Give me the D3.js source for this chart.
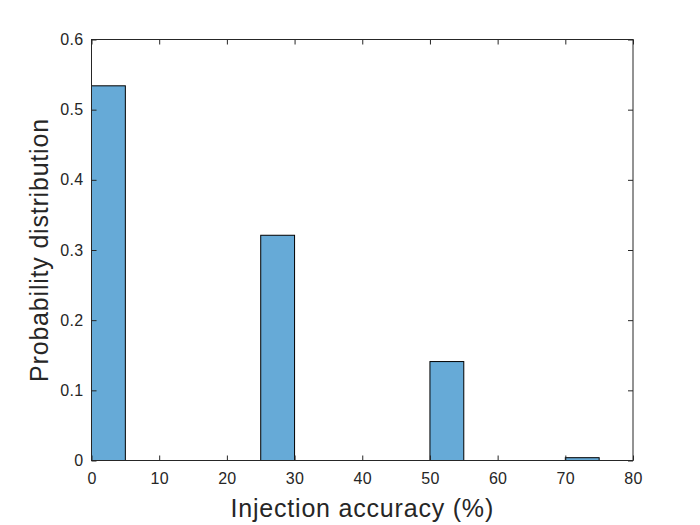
<!DOCTYPE html>
<html>
<head>
<meta charset="utf-8">
<script src="https://cdn.jsdelivr.net/npm/d3@7"></script>
<style>
  body { margin: 0; background: #fff; }
  text { font-family: "Liberation Sans", Arial, sans-serif; fill: #262626; }
</style>
</head>
<body>
<svg id="chart" width="700" height="525"></svg>
<script>
const MARGIN = { top: 39.5, right: 67, bottom: 64.5, left: 91.5 };

// histogram bins (Injection accuracy %) and probability per bin
const binStarts = [0, 25, 50, 70];
const binWidth = 5;
const probabilities = [0.534, 0.321, 0.141, 0.004];
const xTicks = [0, 10, 20, 30, 40, 50, 60, 70, 80];
const yTicks = [0, 0.1, 0.2, 0.3, 0.4, 0.5, 0.6];

const width = 700 - MARGIN.left - MARGIN.right;
const height = 525 - MARGIN.top - MARGIN.bottom;

const svg = d3.select("#chart");
const g = svg.append("g")
  .attr("transform", "translate(" + MARGIN.left + "," + MARGIN.top + ")");

let x = d3.scaleLinear().domain([0, 80]).range([0, width]);
let y = d3.scaleLinear().domain([0, 0.6]).range([height, 0]);

let bars = binStarts.map((s, i) => [s, probabilities[i]]);

g.selectAll(".bar")
  .data(bars)
  .join("rect")
  .attr("class", "bar")
  .attr("x", d => x(d[0]))
  .attr("y", d => y(d[1]))
  .attr("width", d => x(d[0] + binWidth) - x(d[0]))
  .attr("height", d => y(0) - y(d[1]))
  .attr("fill", "#66aad7")
  .attr("stroke", "#000")
  .attr("stroke-width", 1);

// axes with inward ticks, mirrored on top/right
function styleAxis(sel) {
  sel.select(".domain").remove();
  sel.selectAll("line").attr("stroke", "#262626");
  sel.selectAll("text").style("font-size", "16px").style("letter-spacing", "0.3px").attr("fill", "#262626");
}

g.append("g")
  .attr("transform", "translate(0," + height + ")")
  .call(d3.axisBottom(x).tickValues(xTicks).tickSizeInner(-5).tickSizeOuter(0).tickPadding(12))
  .call(styleAxis);

g.append("g")
  .call(d3.axisTop(x).tickValues(xTicks).tickSizeInner(-5).tickSizeOuter(0).tickFormat(""))
  .call(styleAxis);

g.append("g")
  .call(d3.axisLeft(y).tickValues(yTicks).tickSizeInner(-5).tickSizeOuter(0).tickPadding(8).tickFormat(d => d === 0 ? "0" : d3.format(".1f")(d)))
  .call(styleAxis);

g.append("g")
  .attr("transform", "translate(" + width + ",0)")
  .call(d3.axisRight(y).tickValues(yTicks).tickSizeInner(-5).tickSizeOuter(0).tickFormat(""))
  .call(styleAxis);

g.append("rect")
  .attr("width", width)
  .attr("height", height)
  .attr("fill", "none")
  .attr("stroke", "#262626")
  .attr("stroke-width", 1);

g.append("text")
  .attr("x", width / 2)
  .attr("y", height + 56.5)
  .attr("text-anchor", "middle")
  .style("font-size", "25px")
  .style("letter-spacing", "0.8px")
  .text("Injection accuracy (%)");

g.append("text")
  .attr("transform", "translate(" + (-43.5) + "," + (height / 2) + ") rotate(-90)")
  .attr("text-anchor", "middle")
  .style("font-size", "25px")
  .style("letter-spacing", "0.8px")
  .text("Probability distribution");
</script>
</body>
</html>
